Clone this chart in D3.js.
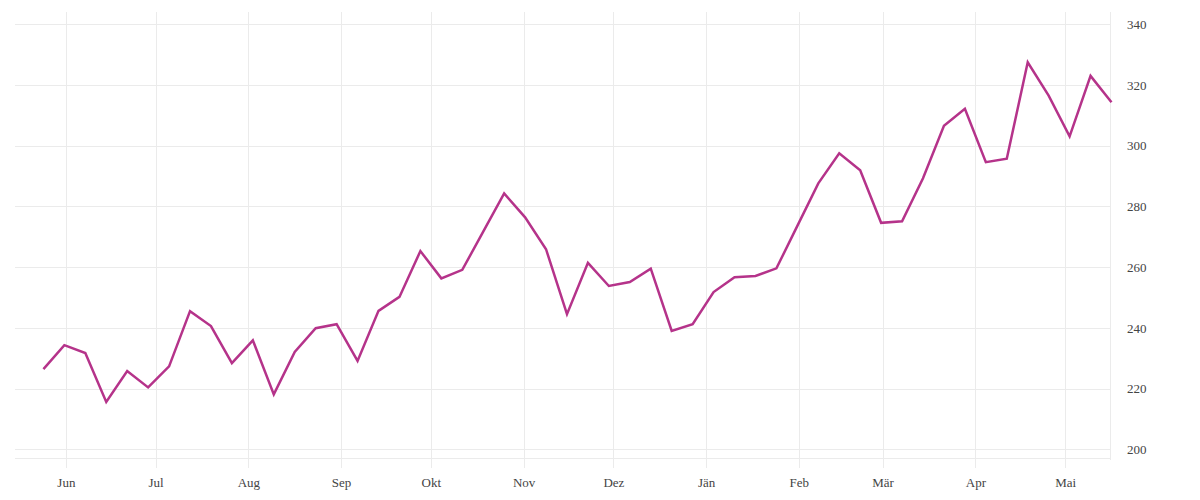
<!DOCTYPE html>
<html>
<head>
<meta charset="utf-8">
<script src="https://cdn.jsdelivr.net/npm/d3@7"></script>
<style>
  html, body { margin: 0; padding: 0; background: #fff; }
  svg { display: block; }
  .tick text { font-family: "Liberation Serif", "DejaVu Serif", serif; fill: #444; }
</style>
</head>
<body>
<svg id="chart" width="1200" height="500"></svg>
<script>
// Weekly observations, starting 2022-05-24 (midday)
const startDate = "2022-05-24T12";
const values = [
  226.4, 234.3, 231.7, 215.6, 225.8, 220.4, 227.3, 245.5, 240.6, 228.4,
  235.9, 218.1, 232.1, 239.9, 241.2, 229.1, 245.6, 250.2, 265.3, 256.3,
  259.1, 271.7, 284.3, 276.4, 265.9, 244.5, 261.4, 253.8, 255.1, 259.5,
  239.0, 241.2, 251.8, 256.7, 257.1, 259.6, 273.6, 287.6, 297.5, 291.9,
  274.6, 275.1, 289.3, 306.6, 312.2, 294.6, 295.7, 327.5, 316.5, 303.1,
  323.0, 314.3
];
const monthTicks = ["2022-06-01T00","2022-07-01T00","2022-08-01T00","2022-09-01T00","2022-10-01T00","2022-11-01T00",
                    "2022-12-01T00","2023-01-01T00","2023-02-01T00","2023-03-01T00","2023-04-01T00","2023-05-01T00"];
const monthLabels = ["Jun","Jul","Aug","Sep","Okt","Nov","Dez","Jän","Feb","Mär","Apr","Mai"];
const yTicks = [200, 220, 240, 260, 280, 300, 320, 340];
const xDomain = ["2022-05-15T00", "2023-05-16T00"];
const yDomain = [197.13, 344.05];

(function () {
const parse = d3.utcParse("%Y-%m-%dT%H");
const t0 = parse(startDate);
const data = values.map((v, i) => ({ date: d3.utcDay.offset(t0, 7 * i), value: v }));

const mL = 15, mR = 1110, mT = 12, mB = 458;
const x = d3.scaleUtc().domain(xDomain.map(parse)).range([mL, mR]);
const y = d3.scaleLinear().domain(yDomain).range([mB, mT]);

const svg = d3.select("#chart");
const grid = "#ebebeb";

// horizontal gridlines
svg.append("g").selectAll("line").data(yTicks).join("line")
  .attr("x1", mL).attr("x2", mR)
  .attr("y1", d => Math.round(y(d)) + 0.5).attr("y2", d => Math.round(y(d)) + 0.5)
  .attr("stroke", grid).attr("stroke-width", 1);

// vertical gridlines
const tickDates = monthTicks.map(parse);
svg.append("g").selectAll("line").data(tickDates).join("line")
  .attr("x1", d => Math.round(x(d)) + 0.5).attr("x2", d => Math.round(x(d)) + 0.5)
  .attr("y1", mT).attr("y2", 468)
  .attr("stroke", grid).attr("stroke-width", 1);

// bottom baseline and right border
svg.append("line").attr("x1", mL).attr("x2", mR).attr("y1", mB + 0.5).attr("y2", mB + 0.5)
  .attr("stroke", grid);
svg.append("line").attr("x1", mR + 0.5).attr("x2", mR + 0.5).attr("y1", mT).attr("y2", 460)
  .attr("stroke", grid);

// y axis (right)
const yAxis = d3.axisRight(y).tickValues(yTicks).tickSize(0).tickPadding(17).tickFormat(d3.format("d"));
svg.append("g").attr("transform", `translate(${mR},0)`).call(yAxis)
  .call(g => g.select(".domain").remove())
  .selectAll("text").attr("font-size", 13).attr("dy", "0.32em");

// x axis
const xAxis = d3.axisBottom(x).tickValues(tickDates).tickSize(0).tickPadding(0)
  .tickFormat((d, i) => monthLabels[i]);
svg.append("g").attr("transform", `translate(0,478)`).call(xAxis)
  .call(g => g.select(".domain").remove())
  .selectAll("text").attr("font-size", 13).attr("dy", "0.71em");

// line
const line = d3.line().x(d => x(d.date)).y(d => y(d.value));
svg.append("path").datum(data)
  .attr("d", line)
  .attr("fill", "none")
  .attr("stroke", "#b5338a")
  .attr("stroke-width", 2.5)
  .attr("stroke-linejoin", "miter");
})();
</script>
</body>
</html>
